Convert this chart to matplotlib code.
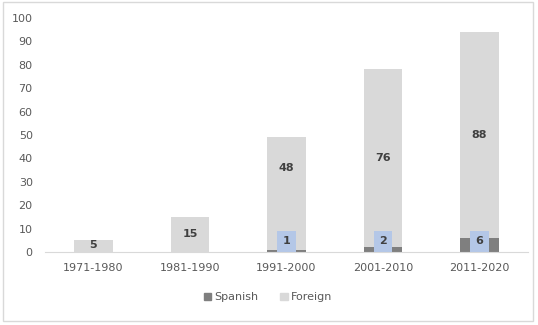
import matplotlib.pyplot as plt
import matplotlib.patches as mpatches
import numpy as np

decades = ["1971-1980", "1981-1990", "1991-2000", "2001-2010", "2011-2020"]
spanish = [0, 0, 1, 2, 6]
foreign = [5, 15, 48, 76, 88]
# where the foreign labels sit (the 48 one was moved down in the original)
foreign_label_y = [3, 7.5, 36, 40, 50]

fig = plt.figure(figsize=(5.38, 3.25), dpi=100)
ax = fig.add_axes([0.084, 0.2246, 0.897, 0.72])

x = np.arange(len(decades))
w = 0.4
ax.bar(x, spanish, w, color="#7F7F7F", label="Spanish", zorder=2)
ax.bar(x, foreign, w, bottom=spanish, color="#D9D9D9", label="Foreign", zorder=2)

for i in range(len(decades)):
    ax.text(x[i], foreign_label_y[i], str(foreign[i]), ha="center", va="center",
            fontsize=8, fontweight="bold", color="#404040", zorder=4)
    if spanish[i] > 0:
        ax.text(x[i], 4.6, str(spanish[i]), ha="center", va="center",
                fontsize=8, fontweight="bold", color="#404040", zorder=4,
                bbox=dict(boxstyle="square,pad=0.5", fc="#B4C7E7", ec="none"))

ax.set_xlim(-0.5, len(decades) - 0.5)
ax.set_ylim(0, 100)
ax.set_yticks(range(0, 101, 10))
ax.set_xticks(x)
ax.set_xticklabels(decades)
ax.tick_params(axis="both", length=0, labelsize=8, colors="#595959")
ax.tick_params(axis="x", pad=8)
ax.tick_params(axis="y", pad=9)
for s in ["top", "right", "left"]:
    ax.spines[s].set_visible(False)
ax.spines["bottom"].set_color("#D9D9D9")

handles = [mpatches.Patch(color="#7F7F7F", label="Spanish"),
           mpatches.Patch(color="#D9D9D9", label="Foreign")]
fig.legend(handles=handles, loc="center", bbox_to_anchor=(0.498, 0.085), ncol=2,
           frameon=False, fontsize=8, handlelength=0.7, handleheight=0.7,
           handletextpad=0.3, columnspacing=1.9, labelcolor="#595959")

# chart border
fig.patches.append(mpatches.Rectangle((0.006, 0.012), 0.985, 0.982, transform=fig.transFigure,
                                      fill=False, ec="#D9D9D9", lw=1))

fig.savefig("out.png", dpi=100)
